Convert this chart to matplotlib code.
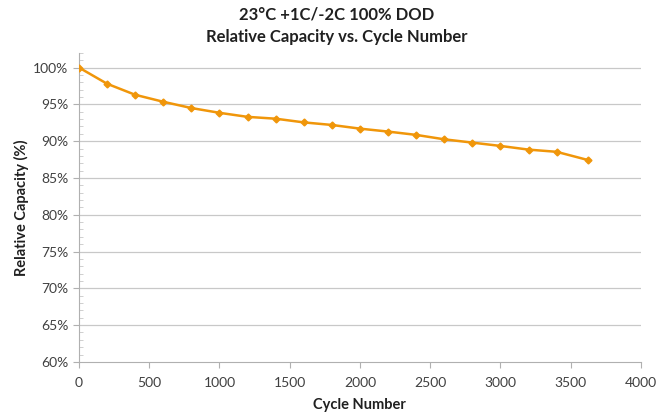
import matplotlib
matplotlib.use('Agg')
import matplotlib.pyplot as plt
from matplotlib.ticker import MultipleLocator, FuncFormatter

plt.rcParams['font.family'] = ['Lato', 'DejaVu Sans']

# data
cycles = [0, 200, 400, 600, 800, 1000, 1200, 1400, 1600, 1800,
          2000, 2200, 2400, 2600, 2800, 3000, 3200, 3400, 3620]
capacity = [100.0, 97.8, 96.3, 95.35, 94.5, 93.85, 93.3, 93.05, 92.55, 92.2,
            91.7, 91.3, 90.85, 90.25, 89.8, 89.35, 88.85, 88.55, 87.45]

title_lines = ['23°C +1C/-2C 100% DOD', 'Relative Capacity vs. Cycle Number']

fig = plt.figure(figsize=(6.69, 4.16), dpi=100)
ax = fig.add_axes([0.118, 0.13, 0.84, 0.743])

ax.plot(cycles, capacity, color='#F0960A', lw=1.8, marker='D', ms=3.5,
        mec='#F0960A', mfc='#F0960A', zorder=3)

ax.set_xlim(0, 4000)
ax.set_ylim(60, 102)
ax.set_xticks(range(0, 4001, 500))
ax.set_yticks(range(60, 101, 5))
ax.yaxis.set_minor_locator(MultipleLocator(1))
ax.yaxis.set_major_formatter(FuncFormatter(lambda v, p: '%d%%' % v))

for v in range(65, 101, 5):
    ax.axhline(v, color='#c8c8c8', lw=0.9, zorder=1)

for s in ['top', 'right']:
    ax.spines[s].set_visible(False)
ax.spines['left'].set_color('#b0b0b0')
ax.spines['bottom'].set_color('#b0b0b0')

ax.tick_params(axis='both', which='major', colors='#b0b0b0', labelcolor='#404040',
               labelsize=10, length=4, direction='out')
ax.tick_params(axis='y', which='minor', colors='#c8c8c8', length=3, direction='in')
ax.tick_params(axis='x', which='major', pad=7)

ax.set_xlabel('Cycle Number', fontsize=10.5, fontweight='bold', color='#202020', labelpad=6)
ax.set_ylabel('Relative Capacity (%)', fontsize=10.5, fontweight='bold', color='#202020', labelpad=3)

fig.text(0.503, 0.965, title_lines[0], ha='center', va='center', fontsize=12,
         fontweight='bold', color='#202020')
fig.text(0.503, 0.91, title_lines[1], ha='center', va='center', fontsize=12,
         fontweight='bold', color='#202020')

fig.savefig('out.png', dpi=100)
